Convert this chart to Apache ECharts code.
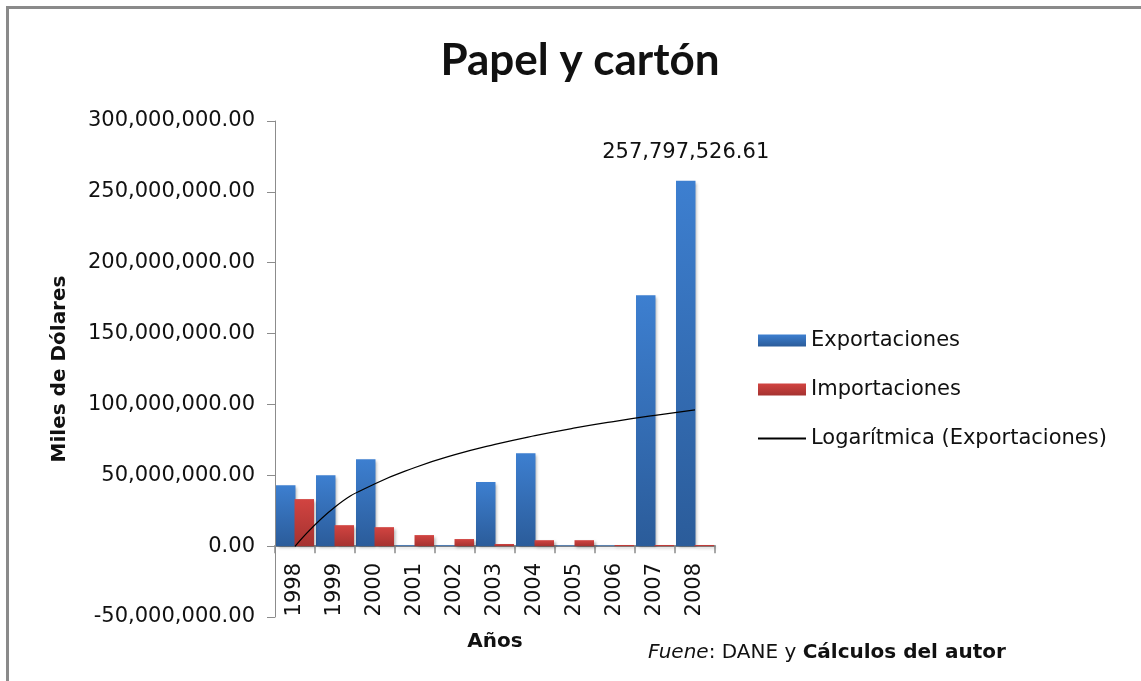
<!DOCTYPE html>
<html>
<head>
<meta charset="utf-8">
<script src="https://cdn.jsdelivr.net/npm/echarts@6/dist/echarts.min.js"></script>
<style>
  html, body { margin: 0; padding: 0; background: #fff; }
  #chart { width: 1141px; height: 681px; }
</style>
</head>
<body>
<div id="chart"></div>
<script>
// Paper and cardboard trade, thousands of US dollars
const years = ['1998', '1999', '2000', '2001', '2002', '2003', '2004', '2005', '2006', '2007', '2008'];
const exportaciones = [43000000, 50000000, 61400000, 600000, 600000, 45200000, 65600000, 500000, 500000, 177000000, 257797526.61];
const importaciones = [33200000, 14800000, 13400000, 7800000, 5000000, 1500000, 4200000, 4200000, 800000, 800000, 800000];
// Logarithmic trend of exports, read at each year
const tendencia = [-200000, 27700000, 44000000, 55500000, 64500000, 71800000, 78000000, 83400000, 88100000, 92300000, 96200000];
const yTicks = { min: -50000000, max: 300000000, step: 50000000 };

const FONT = '"DejaVu Sans", sans-serif';
const TITLE_FONT = 'Lato, "Open Sans", sans-serif';
const fmt = v => Number(v).toLocaleString('en-US', { minimumFractionDigits: 2, maximumFractionDigits: 2 });

const blue = new echarts.graphic.LinearGradient(0, 0, 0, 1, [
  { offset: 0, color: '#3d7fd0' }, { offset: 1, color: '#2b5c9a' }
]);
const red = new echarts.graphic.LinearGradient(0, 0, 0, 1, [
  { offset: 0, color: '#d24441' }, { offset: 1, color: '#a53230' }
]);

const lastIdx = exportaciones.length - 1;
const exportData = exportaciones.map((v, i) => i === lastIdx
  ? { value: v, label: { show: true, position: 'top', distance: 18, formatter: p => fmt(p.value),
      fontSize: 21, color: '#111', fontFamily: FONT } }
  : v);

const chart = echarts.init(document.getElementById('chart'));
chart.setOption({
  animation: false,
  backgroundColor: '#fff',
  title: {
    text: 'Papel y cartón',
    left: 575, top: 34, textAlign: 'center',
    textStyle: { fontFamily: TITLE_FONT, fontWeight: 'bold', fontSize: 44, color: '#111' }
  },
  grid: { left: 275, right: 426, top: 121, bottom: 64, containLabel: false, outerBoundsMode: 'none' },
  legend: {
    orient: 'vertical',
    left: 757, top: 330, padding: 0,
    itemWidth: 48, itemHeight: 12, itemGap: 28,
    textStyle: { fontFamily: FONT, fontSize: 21, color: '#111' },
    data: [
      { name: 'Exportaciones', icon: 'rect' },
      { name: 'Importaciones', icon: 'rect' },
      { name: 'Logarítmica (Exportaciones)', itemStyle: { opacity: 0 } }
    ]
  },
  xAxis: [
    {
      // year labels and axis title, placed from the bottom edge of the plot
      type: 'category',
      data: years,
      boundaryGap: true,
      name: 'Años',
      nameLocation: 'middle',
      nameGap: 15,
      nameTextStyle: { fontFamily: FONT, fontWeight: 'bold', fontSize: 20, color: '#111' },
      axisLine: { show: false, onZero: false },
      axisTick: { show: false },
      axisLabel: { rotate: 90, margin: -54, fontFamily: FONT, fontSize: 21, color: '#111' },
      splitLine: { show: false }
    },
    {
      // category axis line drawn at zero
      type: 'category',
      data: years,
      position: 'bottom',
      boundaryGap: true,
      axisLine: { onZero: true, lineStyle: { color: '#8c8c8c', width: 2 } },
      axisTick: { show: true, inside: false, length: 7, alignWithLabel: false, lineStyle: { color: '#8c8c8c', width: 1.5 } },
      axisLabel: { show: false },
      splitLine: { show: false }
    }
  ],
  yAxis: {
    type: 'value',
    min: yTicks.min, max: yTicks.max, interval: yTicks.step,
    name: 'Miles de Dólares',
    nameLocation: 'middle',
    nameGap: 205,
    nameTextStyle: { fontFamily: FONT, fontWeight: 'bold', fontSize: 20, color: '#111' },
    axisLine: { show: true, lineStyle: { color: '#8c8c8c', width: 1 } },
    axisTick: { show: true, inside: false, length: 8, lineStyle: { color: '#8c8c8c' } },
    axisLabel: { margin: 20, formatter: fmt, fontFamily: FONT, fontSize: 21, color: '#111' },
    splitLine: { show: false }
  },
  series: [
    {
      name: 'Exportaciones', type: 'bar', data: exportData,
      barGap: '-5%', barCategoryGap: '5%',
      itemStyle: { color: blue, shadowBlur: 3, shadowColor: 'rgba(0,0,0,0.3)', shadowOffsetX: 2, shadowOffsetY: 2 }
    },
    {
      name: 'Importaciones', type: 'bar', data: importaciones,
      itemStyle: { color: red, shadowBlur: 3, shadowColor: 'rgba(0,0,0,0.3)', shadowOffsetX: 2, shadowOffsetY: 2 }
    },
    {
      name: 'Logarítmica (Exportaciones)', type: 'line', data: tendencia,
      smooth: true, symbol: 'none', z: 5,
      lineStyle: { color: '#000', width: 1.3 },
      itemStyle: { color: '#000' }
    }
  ],
  graphic: [
    {
      type: 'polyline', silent: true,
      shape: { points: [[7.5, 700], [7.5, 7.5], [1160, 7.5]] },
      style: { stroke: '#8a8a8a', lineWidth: 3, fill: null }
    },
    {
      type: 'text', left: 648, top: 643,
      style: {
        text: '{i|Fuene}{n|: DANE y }{b|Cálculos del autor}',
        rich: {
          i: { fontFamily: FONT, fontStyle: 'italic', fontSize: 20, fill: '#111' },
          n: { fontFamily: FONT, fontSize: 20, fill: '#111' },
          b: { fontFamily: FONT, fontWeight: 'bold', fontSize: 20, fill: '#111' }
        }
      }
    }
  ]
});
</script>
</body>
</html>
